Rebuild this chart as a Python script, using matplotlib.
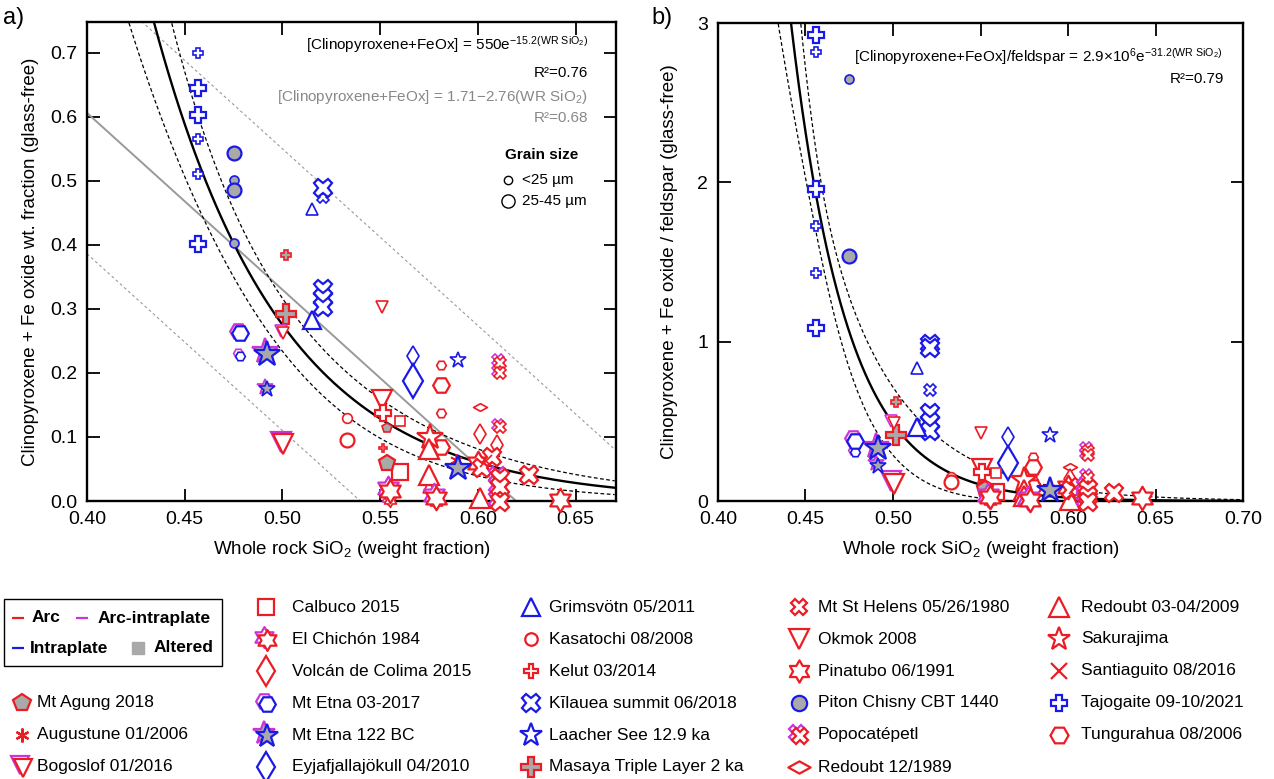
import numpy as np
import matplotlib
matplotlib.use("Agg")
import matplotlib.pyplot as plt
from matplotlib.path import Path
from matplotlib.patches import Rectangle
from matplotlib.transforms import ScaledTranslation

plt.rcParams['font.family'] = ['Liberation Sans', 'DejaVu Sans']
plt.rcParams['mathtext.fontset'] = 'custom'
plt.rcParams['mathtext.rm'] = 'Liberation Sans'
plt.rcParams['mathtext.it'] = 'Liberation Sans:italic'
plt.rcParams['mathtext.bf'] = 'Liberation Sans:bold'

# ---- data: (SiO2, value, grain size 1 = 25-45 um / 0 = <25 um) ----
# panel a: cpx + Fe oxide wt. fraction
tajogaite_a = ([0.457, 0.457, 0.457, 0.457, 0.457, 0.457], [0.700, 0.645, 0.603, 0.566, 0.511, 0.402], [0, 1, 1, 0, 0, 1])
piton_a = ([0.475, 0.475, 0.475, 0.475], [0.544, 0.502, 0.486, 0.403], [1, 0, 1, 0])
kilauea_a = ([0.521, 0.521, 0.521, 0.521, 0.521], [0.489, 0.475, 0.331, 0.317, 0.303], [1, 0, 1, 1, 1])
grimsvotn_a = ([0.515, 0.515], [0.456, 0.283], [0, 1])
masaya_a = ([0.502, 0.502], [0.384, 0.292], [0, 1])
okmok_a = ([0.551, 0.551], [0.303, 0.157], [0, 1])
bogoslof_a = ([0.500, 0.500], [0.263, 0.090], [0, 1])
etna17_a = ([0.478, 0.478], [0.263, 0.228], [1, 0])
etna122_a = ([0.492, 0.492], [0.231, 0.175], [1, 0])
kasatochi_a = ([0.533, 0.533], [0.130, 0.095], [0, 1])
tungurahua_a = ([0.581, 0.581, 0.581, 0.581], [0.212, 0.181, 0.137, 0.085], [0, 1, 0, 1])
eyjaf_a = ([0.567, 0.567], [0.227, 0.188], [0, 1])
laacher_a = ([0.590], [0.220], [0])
laacher_alt_a = ([0.590], [0.052], [1])
popo_a = ([0.611, 0.611, 0.611, 0.611, 0.611, 0.611], [0.217, 0.201, 0.116, 0.037, 0.022, 0.000], [0, 0, 0, 1, 1, 1])
redoubt89_a = ([0.601], [0.147], [0])
colima_a = ([0.601, 0.610], [0.105, 0.088], [0, 0])
kelut_a = ([0.5515, 0.5515], [0.137, 0.083], [1, 0])
calbuco_a = ([0.560, 0.560], [0.125, 0.045], [0, 1])
agung_a = ([0.5535, 0.5535], [0.114, 0.059], [0, 1])
chichon_a = ([0.555, 0.555, 0.5785, 0.5785], [0.017, 0.002, 0.006, 0.000], [1, 0, 1, 0])
sakurajima_a = ([0.5755], [0.100], [1])
redoubt09_a = ([0.575, 0.575, 0.575, 0.601], [0.081, 0.041, 0.022, 0.005], [1, 1, 0, 1])
augustine_a = ([0.589], [0.064], [0])
pinatubo_a = ([0.600, 0.642], [0.059, 0.002], [1, 1])
sthelens_a = ([0.602, 0.607, 0.626], [0.052, 0.068, 0.041], [1, 1, 1])
santiaguito_a = ([0.604], [0.062], [0])

# panel b: (cpx + Fe oxide) / feldspar
tajogaite_b = ([0.456, 0.456, 0.456, 0.456, 0.456, 0.456], [2.925, 2.820, 1.960, 1.726, 1.430, 1.086], [1, 0, 1, 0, 0, 1])
piton_b = ([0.475, 0.475], [2.650, 1.538], [0, 1])
kilauea_b = ([0.521, 0.521, 0.521, 0.521, 0.521, 0.521], [0.985, 0.960, 0.697, 0.552, 0.496, 0.440], [1, 1, 0, 1, 1, 1])
grimsvotn_b = ([0.514, 0.514], [0.835, 0.465], [0, 1])
masaya_b = ([0.502, 0.502], [0.620, 0.414], [0, 1])
okmok_b = ([0.550, 0.551], [0.427, 0.200], [0, 1])
bogoslof_b = ([0.500, 0.500], [0.490, 0.113], [0, 1])
etna17_b = ([0.478, 0.478], [0.383, 0.308], [1, 0])
etna122_b = ([0.491, 0.491], [0.333, 0.226], [1, 0])
kasatochi_b = ([0.533, 0.533], [0.150, 0.120], [0, 1])
tungurahua_b = ([0.580, 0.580, 0.580, 0.580], [0.277, 0.214, 0.130, 0.090], [0, 1, 0, 1])
eyjaf_b = ([0.566, 0.566], [0.400, 0.238], [0, 1])
laacher_b = ([0.590], [0.414], [0])
laacher_alt_b = ([0.590], [0.070], [1])
popo_b = ([0.611, 0.611, 0.611, 0.611, 0.611, 0.611], [0.320, 0.290, 0.150, 0.080, 0.035, 0.000], [0, 0, 0, 1, 1, 1])
redoubt89_b = ([0.601], [0.214], [0])
colima_b = ([0.601, 0.610], [0.140, 0.100], [0, 0])
kelut_b = ([0.551, 0.551], [0.180, 0.110], [1, 0])
calbuco_b = ([0.559, 0.559], [0.175, 0.057], [0, 1])
agung_b = ([0.5525, 0.5525], [0.100, 0.075], [0, 1])
chichon_b = ([0.555, 0.555, 0.578, 0.578], [0.030, 0.005, 0.008, 0.000], [1, 0, 1, 0])
sakurajima_b = ([0.575], [0.130], [1])
redoubt09_b = ([0.575, 0.575, 0.575, 0.601], [0.070, 0.030, 0.010, 0.005], [1, 1, 0, 1])
augustine_b = ([0.589], [0.080], [0])
pinatubo_b = ([0.600, 0.642], [0.085, 0.020], [1, 1])
sthelens_b = ([0.602, 0.607, 0.626], [0.070, 0.085, 0.050], [1, 1, 1])
santiaguito_b = ([0.604], [0.080], [0])

# fits written on the chart
exp_fit_a = (550.0, 15.2)
lin_fit_a = (1.71, 2.76)
exp_fit_b = (2.9e6, 31.2)

# ---- styles ----
RED = '#ec1c24'
BLUE = '#1a1ae6'
MAG = '#cc33d9'
GRAY = '#a9a9a9'
HEXAGRAM = Path.unit_regular_star(6, 1 / np.sqrt(3))
WIDE_DIAMOND = Path([(-1, 0), (0, 0.55), (1, 0), (0, -0.55), (-1, 0)], closed=True)

# marker, face, edge, second edge (arc-intraplate), sizes (small, large, legend)
styles = {
    'Mt Agung 2018': ('p', GRAY, RED, None, (7, 12, 13)),
    'Augustune 01/2006': ((6, 2, 0), 'none', RED, None, (9, 12, 10)),
    'Bogoslof 01/2016': ('v', 'white', RED, MAG, (9, 15, 13)),
    'Calbuco 2015': ('s', 'white', RED, None, (7, 12, 12)),
    'El Chichón 1984': (HEXAGRAM, 'white', RED, MAG, (10, 17, 15)),
    'Volcán de Colima 2015': ('d', 'white', RED, None, (10, 17, 15)),
    'Mt Etna 03-2017': ('H', 'white', BLUE, MAG, (7, 12, 12)),
    'Mt Etna 122 BC': ('*', GRAY, BLUE, MAG, (12, 19, 17)),
    'Eyjafjallajökull 04/2010': ('d', 'white', BLUE, None, (10, 17, 15)),
    'Grimsvötn 05/2011': ('^', 'white', BLUE, None, (8, 13, 13)),
    'Kasatochi 08/2008': ('o', 'white', RED, None, (7, 10, 9)),
    'Kelut 03/2014': ('P', 'white', RED, None, (6, 12, 10)),
    'Kīlauea summit 06/2018': ('X', 'white', BLUE, None, (8, 13, 13)),
    'Laacher See 12.9 ka': ('*', 'white', BLUE, None, (12, 19, 17)),
    'Masaya Triple Layer 2 ka': ('P', GRAY, RED, None, (7, 14, 14)),
    'Mt St Helens 05/26/1980': ('X', 'white', RED, None, (8, 13, 12)),
    'Okmok 2008': ('v', 'white', RED, None, (8, 14, 14)),
    'Pinatubo 06/1991': (HEXAGRAM, 'white', RED, None, (10, 17, 16)),
    'Piton Chisny CBT 1440': ('o', GRAY, BLUE, None, (6.5, 10, 11)),
    'Popocatépetl': ('X', 'white', RED, MAG, (8, 13, 12)),
    'Redoubt 12/1989': (WIDE_DIAMOND, 'white', RED, None, (10, 14, 16)),
    'Redoubt 03-04/2009': ('^', 'white', RED, None, (8, 14, 14)),
    'Sakurajima': ('*', 'white', RED, None, (12, 19, 17)),
    'Santiaguito 08/2016': ('x', 'none', RED, None, (8, 12, 11)),
    'Tajogaite 09-10/2021': ('P', 'white', BLUE, None, (7, 12, 12)),
    'Tungurahua 08/2006': ('H', 'white', RED, None, (7, 12, 13)),
}

series = [
    ('Tajogaite 09-10/2021', tajogaite_a, tajogaite_b),
    ('Piton Chisny CBT 1440', piton_a, piton_b),
    ('Kīlauea summit 06/2018', kilauea_a, kilauea_b),
    ('Grimsvötn 05/2011', grimsvotn_a, grimsvotn_b),
    ('Masaya Triple Layer 2 ka', masaya_a, masaya_b),
    ('Okmok 2008', okmok_a, okmok_b),
    ('Bogoslof 01/2016', bogoslof_a, bogoslof_b),
    ('Mt Etna 03-2017', etna17_a, etna17_b),
    ('Mt Etna 122 BC', etna122_a, etna122_b),
    ('Kasatochi 08/2008', kasatochi_a, kasatochi_b),
    ('Tungurahua 08/2006', tungurahua_a, tungurahua_b),
    ('Eyjafjallajökull 04/2010', eyjaf_a, eyjaf_b),
    ('Laacher See 12.9 ka', laacher_a, laacher_b),
    ('Redoubt 12/1989', redoubt89_a, redoubt89_b),
    ('Volcán de Colima 2015', colima_a, colima_b),
    ('Kelut 03/2014', kelut_a, kelut_b),
    ('Calbuco 2015', calbuco_a, calbuco_b),
    ('Mt Agung 2018', agung_a, agung_b),
    ('Sakurajima', sakurajima_a, sakurajima_b),
    ('Redoubt 03-04/2009', redoubt09_a, redoubt09_b),
    ('Augustune 01/2006', augustine_a, augustine_b),
    ('Pinatubo 06/1991', pinatubo_a, pinatubo_b),
    ('Mt St Helens 05/26/1980', sthelens_a, sthelens_b),
    ('Santiaguito 08/2016', santiaguito_a, santiaguito_b),
    ('Popocatépetl', popo_a, popo_b),
    ('El Chichón 1984', chichon_a, chichon_b),
]

W, H = 1274, 779
fig = plt.figure(figsize=(W / 100, H / 100), dpi=100)


def mark(ax, x, y, st, ms, mew, face=None, z=5):
    m, fc, ec, ec2, _ = st
    if face is not None:
        fc = face
    if ec2 is not None:
        tr = ax.transData + ScaledTranslation(-1.2 / 72, 1.2 / 72, fig.dpi_scale_trans)
        ax.plot(x, y, ls='none', marker=m, ms=ms, mfc=fc, mec=ec2, mew=mew,
                transform=tr, clip_on=False, zorder=z)
        tr2 = ax.transData + ScaledTranslation(0.4 / 72, -0.4 / 72, fig.dpi_scale_trans)
        ax.plot(x, y, ls='none', marker=m, ms=ms, mfc=fc, mec=ec, mew=mew,
                transform=tr2, clip_on=False, zorder=z + 0.1)
    else:
        ax.plot(x, y, ls='none', marker=m, ms=ms, mfc=fc, mec=ec, mew=mew,
                clip_on=False, zorder=z)


def draw_series(ax, data, st, face=None):
    x, y, big = (np.asarray(v) for v in data)
    big = big.astype(bool)
    small = ~big
    if small.any():
        mark(ax, x[small], y[small], st, st[4][0], 1.2, face)
    if big.any():
        mark(ax, x[big], y[big], st, st[4][1], 1.6, face)


axa = fig.add_axes([87 / W, 1 - 501 / H, (616 - 87) / W, (501 - 22) / H])
axb = fig.add_axes([718 / W, 1 - 501 / H, (1243 - 718) / W, (501 - 23) / H])

# ---- panel a lines ----
xs = np.linspace(0.40, 0.67, 400)
A, B = exp_fit_a
fa = A * np.exp(-B * xs)
wa = np.sqrt(0.13 ** 2 + (2.5 * (xs - 0.47)) ** 2)
axa.plot(xs, fa, color='k', lw=1.7, zorder=3)
axa.plot(xs, fa * (1 + wa), color='k', lw=0.9, dashes=(3, 2), zorder=3)
axa.plot(xs, fa * (1 - wa), color='k', lw=0.9, dashes=(3, 2), zorder=3)
c0, c1 = lin_fit_a
xl = np.linspace(0.40, c0 / c1, 100)
axa.plot(xl, c0 - c1 * xl, color='#999999', lw=1.4, zorder=2)
axa.plot(xs, c0 - c1 * xs + 0.22, color='#999999', lw=0.8, dashes=(2.5, 2.5), zorder=2)
xl2 = np.linspace(0.40, (c0 - 0.22) / c1, 100)
axa.plot(xl2, c0 - c1 * xl2 - 0.22, color='#999999', lw=0.8, dashes=(2.5, 2.5), zorder=2)

# ---- panel b lines ----
xb = np.linspace(0.40, 0.70, 600)
A, B = exp_fit_b
fb = A * np.exp(-B * xb)
up_b = fb * np.exp(np.sqrt(0.13 ** 2 + (9.0 * (xb - 0.46)) ** 2))
lo_b = fb * np.clip(1 - np.sqrt(0.12 ** 2 + (8.5 * (xb - 0.454)) ** 2), 0, None)
axb.plot(xb, fb, color='k', lw=1.7, zorder=3)
axb.plot(xb, up_b, color='k', lw=0.9, dashes=(3, 2), zorder=3)
axb.plot(xb, lo_b, color='k', lw=0.9, dashes=(3, 2), zorder=3)

# ---- points ----
for name, da, db in series:
    draw_series(axa, da, styles[name])
    draw_series(axb, db, styles[name])
draw_series(axa, laacher_alt_a, styles['Laacher See 12.9 ka'], face=GRAY)
draw_series(axb, laacher_alt_b, styles['Laacher See 12.9 ka'], face=GRAY)

# ---- axes styling ----
for ax in (axa, axb):
    ax.tick_params(direction='in', length=9, width=1.3, top=True, right=True,
                   labelsize=14, pad=7)
    for sp in ax.spines.values():
        sp.set_linewidth(1.7)

axa.set_xlim(0.40, 0.6707)
axa.set_ylim(0, 0.748)
axa.set_xticks([0.40, 0.45, 0.50, 0.55, 0.60, 0.65])
axa.set_xticklabels(['0.40', '0.45', '0.50', '0.55', '0.60', '0.65'])
axa.set_yticks([0.0, 0.1, 0.2, 0.3, 0.4, 0.5, 0.6, 0.7])
axa.set_yticklabels(['0.0', '0.1', '0.2', '0.3', '0.4', '0.5', '0.6', '0.7'])
axa.set_xlabel('Whole rock SiO$_2$ (weight fraction)', fontsize=13.5, labelpad=8)
axa.set_ylabel('Clinopyroxene + Fe oxide wt. fraction (glass-free)', fontsize=13.5, labelpad=8)

axb.set_xlim(0.40, 0.70)
axb.set_ylim(0, 3)
axb.set_xticks([0.40, 0.45, 0.50, 0.55, 0.60, 0.65, 0.70])
axb.set_xticklabels(['0.40', '0.45', '0.50', '0.55', '0.60', '0.65', '0.70'])
axb.set_yticks([0, 1, 2, 3])
axb.set_yticklabels(['0', '1', '2', '3'])
axb.set_xlabel('Whole rock SiO$_2$ (weight fraction)', fontsize=13.5, labelpad=8)
axb.set_ylabel('Clinopyroxene + Fe oxide / feldspar (glass-free)', fontsize=13.5, labelpad=14)

# ---- annotations ----
axa.text(0.947, 0.952, r'[Clinopyroxene+FeOx] = 550e$^{\mathregular{-15.2(WR\ SiO_2)}}$',
         transform=axa.transAxes, ha='right', va='center', fontsize=11)
axa.text(0.947, 0.893, 'R²=0.76', transform=axa.transAxes, ha='right', va='center', fontsize=11)
axa.text(0.947, 0.843, '[Clinopyroxene+FeOx] = 1.71\u22122.76(WR SiO$_2$)',
         transform=axa.transAxes, ha='right', va='center', fontsize=11, color='#888888')
axa.text(0.947, 0.800, 'R²=0.68', transform=axa.transAxes, ha='right', va='center',
         fontsize=11, color='#888888')
axa.text(0.928, 0.722, 'Grain size', transform=axa.transAxes, ha='right', va='center',
         fontsize=11, fontweight='bold')
axa.plot([0.796], [0.670], transform=axa.transAxes, marker='o', ms=6, mfc='white', mec='k', mew=1)
axa.plot([0.796], [0.626], transform=axa.transAxes, marker='o', ms=9.5, mfc='white', mec='k', mew=1)
axa.text(0.822, 0.670, '<25 µm', transform=axa.transAxes, ha='left', va='center', fontsize=11)
axa.text(0.822, 0.626, '25-45 µm', transform=axa.transAxes, ha='left', va='center', fontsize=11)

axb.text(0.962, 0.929, r'[Clinopyroxene+FeOx]/feldspar = 2.9×10$^6$e$^{\mathregular{-31.2(WR\ SiO_2)}}$',
         transform=axb.transAxes, ha='right', va='center', fontsize=11)
axb.text(0.964, 0.883, 'R²=0.79', transform=axb.transAxes, ha='right', va='center', fontsize=11)

fig.text(3 / W, 1 - 18 / H, 'a)', fontsize=17, va='center', ha='left')
fig.text(651 / W, 1 - 18 / H, 'b)', fontsize=17, va='center', ha='left')

# ---- legend (pixel coordinates of the figure) ----
lg = fig.add_axes([0, 0, 1, 1], zorder=-1)
lg.set_xlim(0, W)
lg.set_ylim(H, 0)
lg.set_axis_off()

lg.add_patch(Rectangle((4, 599), 218, 67, fill=False, ec='k', lw=1))
group_items = [(18, 618, RED, 'Arc', 32), (82, 618, MAG, 'Arc-intraplate', 98),
               (18, 648, BLUE, 'Intraplate', 30)]
for mx, my, col, lab, tx in group_items:
    lg.plot(mx, my, marker='_', ms=8, mew=1.6, color=col)
    lg.text(tx, my, lab, fontsize=12.5, fontweight='bold', va='center', ha='left')
lg.plot(138, 648, marker='s', ms=9, color=GRAY, mec=GRAY)
lg.text(154, 648, 'Altered', fontsize=12.5, fontweight='bold', va='center', ha='left')

legend_cols = [
    (22, 37, 3, ['Mt Agung 2018', 'Augustune 01/2006', 'Bogoslof 01/2016']),
    (266, 292, 0, ['Calbuco 2015', 'El Chichón 1984', 'Volcán de Colima 2015',
                   'Mt Etna 03-2017', 'Mt Etna 122 BC', 'Eyjafjallajökull 04/2010']),
    (531, 549, 0, ['Grimsvötn 05/2011', 'Kasatochi 08/2008', 'Kelut 03/2014',
                   'Kīlauea summit 06/2018', 'Laacher See 12.9 ka', 'Masaya Triple Layer 2 ka']),
    (799, 818, 0, ['Mt St Helens 05/26/1980', 'Okmok 2008', 'Pinatubo 06/1991',
                   'Piton Chisny CBT 1440', 'Popocatépetl', 'Redoubt 12/1989']),
    (1059, 1081, 0, ['Redoubt 03-04/2009', 'Sakurajima', 'Santiaguito 08/2016',
                     'Tajogaite 09-10/2021', 'Tungurahua 08/2006']),
]
for mx, tx, row0, names in legend_cols:
    for i, name in enumerate(names):
        ly = 607 + 32 * (row0 + i)
        st = styles[name]
        mark(lg, [mx], [ly], st, st[4][2], 1.6)
        lg.text(tx, ly, name, fontsize=12.5, va='center', ha='left')

fig.savefig('out.png', dpi=100)
